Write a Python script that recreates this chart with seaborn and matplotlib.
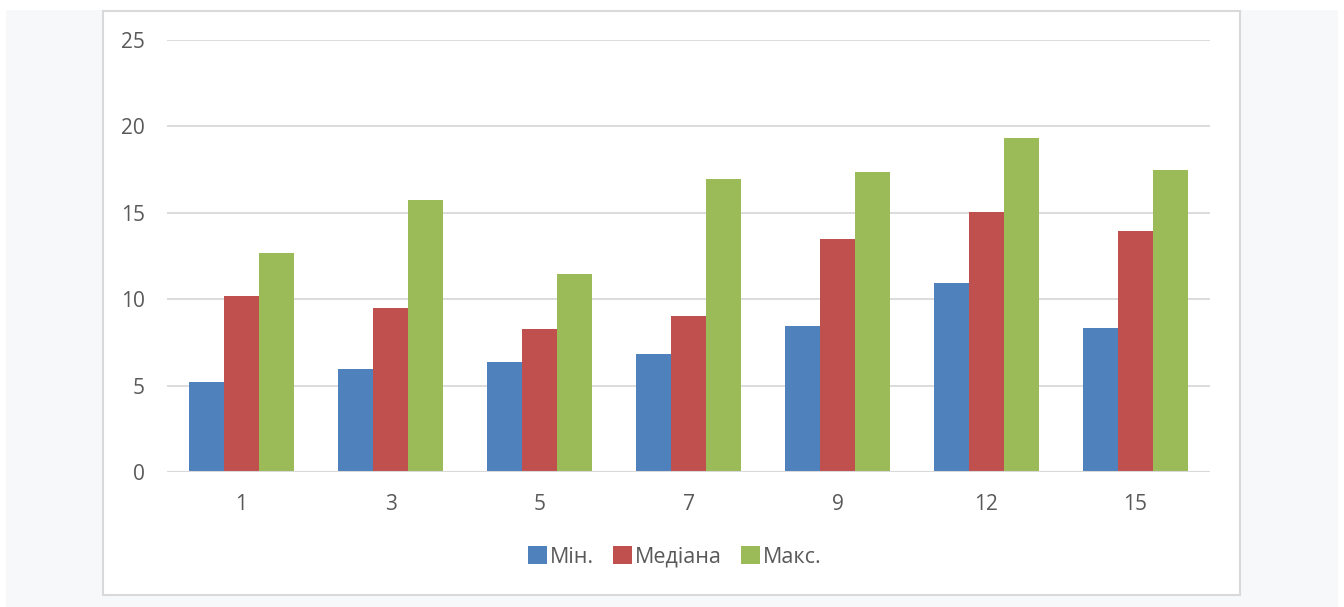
import matplotlib
matplotlib.use("Agg")
import matplotlib.pyplot as plt
from matplotlib.patches import Rectangle, Patch
import seaborn as sns
import pandas as pd

# Category labels and series values
categories = ["1", "3", "5", "7", "9", "12", "15"]
series_names = ["Мін.", "Медіана", "Макс."]
min_vals = [5.2, 5.95, 6.35, 6.85, 8.45, 10.95, 8.35]
median_vals = [10.2, 9.5, 8.25, 9.0, 13.5, 15.05, 13.95]
max_vals = [12.65, 15.75, 11.45, 16.95, 17.35, 19.35, 17.45]
colors = ["#4f81bd", "#c0504d", "#9bbb59"]

df = pd.DataFrame({
    "cat": categories * 3,
    "series": [s for s in series_names for _ in categories],
    "value": min_vals + median_vals + max_vals,
})

sns.set_theme(style="white")
plt.rcParams["font.family"] = ["Open Sans", "DejaVu Sans"]

W, H = 1344, 607
fig = plt.figure(figsize=(W / 100, H / 100), dpi=100, facecolor="white")

# page background and chart frame
fig.patches.append(Rectangle((6 / W, 0), (1338 - 6) / W, (H - 10) / H,
                             transform=fig.transFigure, facecolor="#f7f8fa",
                             edgecolor="none", zorder=-10))
fig.patches.append(Rectangle((103 / W, 1 - 595 / H), (1240 - 103) / W, (595 - 11) / H,
                             transform=fig.transFigure, facecolor="white",
                             edgecolor="#d9d9d9", linewidth=1.5, zorder=-9))

ax = fig.add_axes([167 / W, 1 - 472 / H, (1210 - 167) / W, (472 - 40) / H])
ax.set_facecolor("none")

sns.barplot(data=df, x="cat", y="value", hue="series", order=categories,
            hue_order=series_names, palette=colors, width=0.7, gap=0,
            saturation=1, ax=ax, legend=False, edgecolor="none", zorder=3)

ax.set_ylim(0, 25)
ax.set_xlim(-0.5, len(categories) - 0.5)
ax.set_yticks([0, 5, 10, 15, 20, 25])
ax.yaxis.grid(True, color="#d9d9d9", linewidth=1.3, zorder=0)
ax.set_axisbelow(True)
for s in ax.spines.values():
    s.set_visible(False)
ax.axhline(0, color="#d9d9d9", linewidth=1.5, zorder=4)
ax.set_xlabel("")
ax.set_ylabel("")
ax.tick_params(axis="both", length=0, labelsize=15, labelcolor="#595959")
ax.tick_params(axis="y", pad=16)
ax.tick_params(axis="x", pad=16)

handles = [Patch(facecolor=c, edgecolor="none", label=n) for c, n in zip(colors, series_names)]
fig.legend(handles=handles, loc="center", bbox_to_anchor=(675 / W, 1 - 557 / H),
           ncol=3, frameon=False, fontsize=15.5, labelcolor="#595959",
           handlelength=0.88, handleheight=0.88, handletextpad=0.12,
           columnspacing=0.9)

fig.savefig("out.png", dpi=100, facecolor="white")
